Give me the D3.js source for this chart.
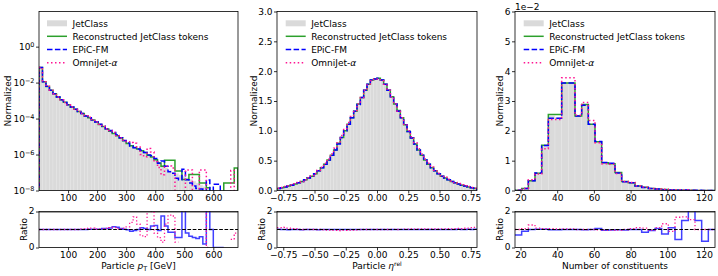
<!DOCTYPE html>
<html>
<head>
<meta charset="utf-8">
<script src="https://cdn.jsdelivr.net/npm/d3@7"></script>
<style>
  body { margin: 0; background: #fff; }
  svg { display: block; }
  text { font-family: "DejaVu Sans", sans-serif; }
</style>
</head>
<body>
<svg id="chart" width="718" height="276"></svg>
<script>
// ---- data ----
var ptEdges = d3.range(0, 685, 12);           // GeV, 57 bins
var etaEdges = d3.range(61).map(function (i) { return -0.8 + i * 1.6 / 60; });
var nEdges = d3.range(31).map(function (i) { return 17 + i * 109 / 30; });

var jetclassPt = [6.9e-2, 1.1e-2, 6.3e-3, 3.8e-3, 2.4e-3, 1.6e-3, 1.1e-3, 7.9e-4, 5.8e-4, 4.4e-4,
  3.3e-4, 2.5e-4, 1.9e-4, 1.4e-4, 1.1e-4, 8.3e-5, 6.3e-5, 4.7e-5, 3.5e-5, 2.6e-5,
  2.0e-5, 1.5e-5, 1.1e-5, 8.1e-6, 6.0e-6, 4.5e-6, 3.3e-6, 2.5e-6, 2.0e-6, 1.6e-6,
  1.26e-6, 9.5e-7, 7.1e-7, 5.0e-7, 3.5e-7, 2.5e-7, 1.8e-7, 1.3e-7, 1.05e-7, 8.7e-8,
  7.2e-8, 6.0e-8, 5.0e-8, 4.2e-8, 3.3e-8, 2.6e-8, 2.0e-8, 1.6e-8, 1.26e-8, 1.0e-8,
  7.9e-9, 6.3e-9, 5.0e-9, 4.0e-9, 3.2e-9, 2.5e-9, 2.0e-9];
var recoPt = [7.0e-2, 1.1e-2, 6.1e-3, 3.8e-3, 2.4e-3, 1.6e-3, 1.1e-3, 8.0e-4, 5.8e-4, 4.3e-4,
  3.3e-4, 2.5e-4, 1.9e-4, 1.4e-4, 1.1e-4, 8.2e-5, 6.4e-5, 4.7e-5, 3.6e-5, 2.6e-5,
  2.0e-5, 1.5e-5, 1.1e-5, 8.0e-6, 5.8e-6, 4.1e-6, 3.1e-6, 2.5e-6, 2.0e-6, 1.6e-6,
  1.3e-6, 9.0e-7, 7.4e-7, 5.2e-7, 3.4e-7, 2.2e-7, 4.8e-7, 4.8e-7, 4.8e-7, 1.2e-7,
  1.2e-7, 4.1e-8, 4.1e-8, 7.8e-8, 7.8e-8, 7.8e-8, 2.6e-8, 2.6e-8, 1.4e-8, 0,
  0, 0, 0, 2.6e-8, 2.6e-8, 2.6e-8, 1.8e-7];
var epicPt = [6.9e-2, 1.1e-2, 6.3e-3, 3.8e-3, 2.4e-3, 1.6e-3, 1.1e-3, 7.9e-4, 5.8e-4, 4.4e-4,
  3.3e-4, 2.5e-4, 1.9e-4, 1.4e-4, 1.1e-4, 8.4e-5, 6.4e-5, 4.8e-5, 3.7e-5, 2.75e-5,
  2.15e-5, 1.7e-5, 1.25e-5, 8.5e-6, 6.1e-6, 4.4e-6, 3.0e-6, 2.4e-6, 2.0e-6, 1.75e-6,
  1.3e-6, 9.5e-7, 8.5e-7, 6.1e-7, 3.3e-7, 4.4e-7, 2.2e-7, 1.1e-7, 9.0e-8, 4.8e-8,
  4.0e-8, 1.5e-7, 4.0e-8, 2.6e-8, 1.8e-8, 1.3e-8, 1.2e-8, 3.0e-9, 3.8e-8, 0,
  2.2e-8, 2.2e-8, 0, 0, 0, 0, 0];
var omniPt = [6.9e-2, 1.1e-2, 6.3e-3, 3.8e-3, 2.4e-3, 1.6e-3, 1.1e-3, 7.9e-4, 5.8e-4, 4.4e-4,
  3.3e-4, 2.5e-4, 1.9e-4, 1.45e-4, 1.2e-4, 9.0e-5, 6.4e-5, 4.8e-5, 3.6e-5, 2.75e-5,
  2.2e-5, 1.7e-5, 1.15e-5, 8.3e-6, 6.5e-6, 5.2e-6, 4.6e-6, 4.25e-6, 2.6e-6, 1.0e-6,
  7.6e-7, 2.2e-6, 1.4e-6, 4.0e-7, 1.9e-7, 7.5e-8, 2.3e-7, 2.3e-7, 1.8e-7, 0,
  0, 0, 1.4e-7, 1.4e-7, 0, 0, 1.4e-7, 1.4e-7, 0, 0,
  0, 0, 0, 0, 0, 1.3e-7, 0];
var ratioPtEpic = [1, 1, 1, 1, 1, 1, 1, 1, 1, 1,
  1, 1, 1, 1, 1.01, 1.01, 1.02, 1.02, 1.05, 1.06,
  1.08, 1.15, 1.12, 1.05, 1.02, 0.98, 0.9, 0.95, 1.0, 1.1,
  1.05, 1.0, 1.2, 1.22, 0.95, 1.75, 1.2, 0.85, 0.85, 0.55,
  0.55, 2.5, 0.8, 0.62, 0.55, 0.5, 0.6, 0.2, 3.0, 1.0,
  0, 0, 0, null, null, null, null];
var ratioPtOmni = [1, 1, 1, 1, 1, 1, 1, 1, 1, 1,
  1, 1, 1.02, 1.03, 1.08, 1.08, 1.02, 1.03, 1.04, 1.06,
  1.1, 1.12, 1.05, 1.03, 1.08, 1.15, 1.4, 1.7, 1.3, 0.65,
  0.6, 2.3, 2.0, 0.8, 0.55, 0.3, 1.3, 1.8, 1.75, 0.3,
  null, null, null, null, null, null, null, 2.5, 0, null,
  null, null, null, null, null, 0.45, 0.8];

var jetclassEta = [0.035, 0.045, 0.06, 0.075, 0.09, 0.11, 0.13, 0.15, 0.18, 0.21,
  0.24, 0.28, 0.33, 0.38, 0.44, 0.51, 0.59, 0.68, 0.78, 0.89,
  1.0, 1.11, 1.22, 1.33, 1.44, 1.56, 1.68, 1.78, 1.85, 1.87,
  1.88, 1.85, 1.78, 1.68, 1.57, 1.45, 1.33, 1.22, 1.1, 0.99,
  0.88, 0.78, 0.68, 0.59, 0.51, 0.44, 0.38, 0.33, 0.28, 0.24,
  0.21, 0.18, 0.15, 0.13, 0.11, 0.09, 0.075, 0.06, 0.045, 0.035];
var recoEta = [0.035, 0.046, 0.06, 0.075, 0.091, 0.11, 0.13, 0.15, 0.18, 0.21,
  0.24, 0.28, 0.33, 0.38, 0.44, 0.51, 0.59, 0.68, 0.79, 0.89,
  1.0, 1.11, 1.22, 1.33, 1.45, 1.56, 1.68, 1.78, 1.85, 1.87,
  1.88, 1.85, 1.78, 1.68, 1.57, 1.45, 1.34, 1.22, 1.1, 0.99,
  0.88, 0.78, 0.68, 0.59, 0.51, 0.44, 0.38, 0.33, 0.28, 0.24,
  0.21, 0.18, 0.15, 0.13, 0.11, 0.09, 0.075, 0.06, 0.045, 0.035];
var epicEta = [0.035, 0.045, 0.06, 0.074, 0.09, 0.11, 0.13, 0.15, 0.18, 0.21,
  0.24, 0.28, 0.33, 0.38, 0.44, 0.51, 0.59, 0.68, 0.78, 0.89,
  1.0, 1.11, 1.22, 1.33, 1.44, 1.56, 1.68, 1.78, 1.85, 1.87,
  1.88, 1.85, 1.78, 1.68, 1.57, 1.45, 1.33, 1.22, 1.1, 0.99,
  0.88, 0.78, 0.68, 0.59, 0.51, 0.44, 0.38, 0.33, 0.28, 0.24,
  0.21, 0.18, 0.15, 0.13, 0.11, 0.09, 0.076, 0.06, 0.045, 0.035];
var omniEta = [0.038, 0.05, 0.066, 0.08, 0.094, 0.113, 0.132, 0.152, 0.182, 0.212,
  0.243, 0.285, 0.34, 0.39, 0.455, 0.53, 0.615, 0.71, 0.815, 0.92,
  1.04, 1.14, 1.24, 1.34, 1.45, 1.56, 1.68, 1.77, 1.84, 1.87,
  1.87, 1.84, 1.78, 1.68, 1.57, 1.45, 1.33, 1.22, 1.11, 1.0,
  0.9, 0.8, 0.7, 0.61, 0.53, 0.455, 0.395, 0.34, 0.29, 0.25,
  0.22, 0.19, 0.158, 0.136, 0.116, 0.095, 0.08, 0.065, 0.049, 0.038];
var ratioEtaEpic = [1.01, 1.0, 1.0, 0.99, 1.0, 1.0, 1.0, 0.99, 1.0, 1.0,
  1.0, 1.0, 0.99, 1.0, 1.0, 1.0, 1.0, 1.0, 1.0, 1.0,
  1.0, 1.0, 1.0, 1.0, 1.0, 1.0, 1.0, 1.0, 1.0, 1.0,
  1.0, 1.0, 1.0, 1.0, 1.0, 1.0, 1.0, 1.0, 1.0, 1.0,
  1.0, 1.0, 1.0, 1.0, 1.0, 1.0, 1.0, 1.0, 1.0, 1.0,
  1.0, 1.0, 1.0, 1.0, 1.01, 1.0, 1.0, 1.01, 1.0, 1.01];
var ratioEtaOmni = [1.1, 1.1, 1.12, 1.08, 1.05, 1.03, 1.0, 1.0, 1.01, 1.0,
  1.0, 0.99, 1.0, 0.98, 0.97, 0.96, 0.95, 0.95, 0.94, 0.95,
  0.95, 0.96, 0.97, 0.98, 0.99, 1.0, 1.0, 1.0, 1.0, 1.0,
  1.0, 1.0, 1.0, 1.0, 1.0, 1.01, 1.0, 1.01, 1.02, 1.02,
  1.03, 1.02, 1.03, 1.03, 1.04, 1.03, 1.03, 1.04, 1.03, 1.04,
  1.04, 1.05, 1.04, 1.05, 1.06, 1.05, 1.07, 1.08, 1.1, 1.12];

var jetclassN = [0.0001, 0.0007, 0.0033, 0.0058, 0.015, 0.025, 0.0245, 0.036, 0.036, 0.025,
  0.0288, 0.0222, 0.0163, 0.0093, 0.009, 0.006, 0.003, 0.0026, 0.0015, 0.0011,
  0.0007, 0.0005, 0.0003, 0.0002, 0.00015, 0.0001, 0.00006, 0.00004, 0.00003, 0.00002];
var recoN = [0.0001, 0.0007, 0.0033, 0.0058, 0.0152, 0.0255, 0.0255, 0.036, 0.036, 0.025,
  0.0288, 0.0222, 0.0163, 0.0093, 0.009, 0.006, 0.003, 0.0026, 0.0015, 0.0011,
  0.0007, 0.0005, 0.0003, 0.0002, 0.00015, 0.0001, 0.00006, 0.00004, 0.00003, 0.00002];
var epicN = [0.00007, 0.00063, 0.0033, 0.0059, 0.0151, 0.0242, 0.0242, 0.036, 0.036, 0.025,
  0.0286, 0.0222, 0.0164, 0.0094, 0.0091, 0.0059, 0.0029, 0.0026, 0.0015, 0.001,
  0.0007, 0.0005, 0.0002, 0.0002, 0.0001, 0.00015, 0.0001, 0.00006, 0.00001, 0.00002];
var omniN = [0.0001, 0.0007, 0.0036, 0.0055, 0.014, 0.0238, 0.0238, 0.0378, 0.0378, 0.0252,
  0.0295, 0.0235, 0.016, 0.009, 0.0088, 0.0057, 0.003, 0.0027, 0.0016, 0.0012,
  0.0007, 0.0005, 0.0004, 0.0002, 0.00025, 0.00017, 0.0001, 0.00004, 0.00003, 0.00002];
var ratioNEpic = [0.7, 0.9, 1.0, 1.02, 1.01, 0.98, 0.98, 1.0, 1.0, 1.0,
  0.99, 1.0, 1.05, 0.96, 0.97, 0.98, 0.97, 1.0, 1.0, 0.85,
  0.95, 1.05, 0.75, 1.1, 0.45, 1.5, 2.5, 1.5, 0.35, 1.0];
var ratioNOmni = [1.0, 1.05, 1.25, 1.08, 1.05, 1.05, 1.04, 1.03, 1.03, 1.0,
  1.0, 1.0, 0.98, 0.96, 0.96, 0.97, 1.0, 1.05, 1.1, 1.08,
  0.97, 1.1, 1.32, 0.9, 1.68, 1.7, 1.55, 1.0, 1.0, 1.0];

var ptTicks = [100, 200, 300, 400, 500, 600];
var etaTicks = [-0.75, -0.5, -0.25, 0, 0.25, 0.5, 0.75];
var nTicks = [20, 40, 60, 80, 100, 120];
var logTicks = [1e-8, 1e-6, 1e-4, 1e-2, 1];
var etaYTicks = [0, 0.5, 1, 1.5, 2, 2.5, 3];
var nYTicks = [0, 0.01, 0.02, 0.03, 0.04, 0.05, 0.06];
var legendLabels = ['JetClass', 'Reconstructed JetClass tokens', 'EPiC-FM', 'OmniJet-'];

// ---- layout ----
var MAIN_TOP = 11.5, MAIN_BOT = 190.5, R_TOP = 211.5, R_BOT = 247.5;
var GREY = '#dadada', GREEN = '#2ca02c', BLUE = '#0000ff', PINK = '#ff1493';
var FONT = 9;

var svg = d3.select('#chart');
var defs = svg.append('defs');
var clipCount = 0;

function makeClip(x0, x1, y0, y1) {
  var id = 'clip' + (clipCount++);
  defs.append('clipPath').attr('id', id).append('rect')
    .attr('x', x0).attr('y', y0).attr('width', x1 - x0).attr('height', y1 - y0);
  return 'url(#' + id + ')';
}

// outline of a step histogram, dropping to the baseline at both ends
function histOutline(edges, vals, x, y, base) {
  var p = d3.path();
  p.moveTo(x(edges[0]), base + 5);
  vals.forEach(function (v, i) {
    var yy = v > 0 ? Math.min(y(v), base + 5) : base + 5;
    p.lineTo(x(edges[i]), yy);
    p.lineTo(x(edges[i + 1]), yy);
  });
  p.lineTo(x(edges[edges.length - 1]), base + 5);
  return p.toString();
}

function ratioPath(edges, vals, x, y) {
  var p = d3.path(), prev = false;
  vals.forEach(function (v, i) {
    if (v == null) { prev = false; return; }
    var yy = y(Math.min(v, 2.3));
    if (prev) p.lineTo(x(edges[i]), yy); else p.moveTo(x(edges[i]), yy);
    p.lineTo(x(edges[i + 1]), yy);
    prev = true;
  });
  return p.toString();
}

function styleAxis(sel) {
  sel.select('.domain').remove();
  sel.attr('font-size', FONT).attr('font-family', '"DejaVu Sans", sans-serif');
  sel.selectAll('line').attr('stroke', '#000').attr('stroke-width', 0.8);
  sel.selectAll('text').attr('fill', '#000');
}

function drawPanel(p) {
  var x = d3.scaleLinear().domain(p.xDomain).range([p.x0, p.x1]);
  var y = (p.log ? d3.scaleLog() : d3.scaleLinear()).domain(p.yDomain).range([MAIN_BOT, MAIN_TOP]);
  var yr = d3.scaleLinear().domain([0, 2]).range([R_BOT, R_TOP]);
  var g = svg.append('g');

  // main histograms
  var main = g.append('g').attr('clip-path', makeClip(p.x0, p.x1, MAIN_TOP, MAIN_BOT));
  main.selectAll('rect').data(p.ref).join('rect')
    .attr('x', function (d, i) { return x(p.edges[i]); })
    .attr('width', function (d, i) { return x(p.edges[i + 1]) - x(p.edges[i]); })
    .attr('y', function (d) { return d > 0 ? Math.min(y(d), MAIN_BOT) : MAIN_BOT; })
    .attr('height', function (d) { return d > 0 ? MAIN_BOT - Math.min(y(d), MAIN_BOT) : 0; })
    .attr('fill', GREY)
    .attr('stroke', '#e6e6e6')
    .attr('stroke-width', 0.5);

  main.append('path').attr('d', histOutline(p.edges, p.reco, x, y, MAIN_BOT))
    .attr('fill', 'none').attr('stroke', GREEN).attr('stroke-width', 1.5);
  main.append('path').attr('d', histOutline(p.edges, p.epic, x, y, MAIN_BOT))
    .attr('fill', 'none').attr('stroke', BLUE).attr('stroke-width', 1.5)
    .attr('stroke-dasharray', '5.5,2.4');
  main.append('path').attr('d', histOutline(p.edges, p.omni, x, y, MAIN_BOT))
    .attr('fill', 'none').attr('stroke', PINK).attr('stroke-width', 1.5)
    .attr('stroke-dasharray', '1.5,2.5');

  // ratio panel
  var rat = g.append('g').attr('clip-path', makeClip(p.x0, p.x1, R_TOP, R_BOT));
  rat.append('line').attr('x1', p.x0).attr('x2', p.x1)
    .attr('y1', yr(2) + 0.8).attr('y2', yr(2) + 0.8)
    .attr('stroke', '#a0a0a0').attr('stroke-width', 1.2);
  rat.append('path').attr('d', ratioPath(p.edges, p.rEpic, x, yr))
    .attr('fill', 'none').attr('stroke', BLUE).attr('stroke-opacity', 0.75).attr('stroke-width', 1.5);
  rat.append('path').attr('d', ratioPath(p.edges, p.rOmni, x, yr))
    .attr('fill', 'none').attr('stroke', PINK).attr('stroke-width', 1.3)
    .attr('stroke-dasharray', '1.3,2.2');
  rat.append('line').attr('x1', p.x0).attr('x2', p.x1)
    .attr('y1', yr(1)).attr('y2', yr(1))
    .attr('stroke', '#000').attr('stroke-width', 1).attr('stroke-dasharray', '3.7,1.6');

  // frames
  g.append('rect').attr('x', p.x0).attr('y', MAIN_TOP).attr('width', p.x1 - p.x0)
    .attr('height', MAIN_BOT - MAIN_TOP).attr('fill', 'none').attr('stroke', '#000').attr('stroke-width', 0.8);
  g.append('rect').attr('x', p.x0).attr('y', R_TOP).attr('width', p.x1 - p.x0)
    .attr('height', R_BOT - R_TOP).attr('fill', 'none').attr('stroke', '#000').attr('stroke-width', 0.8);

  // axes
  g.append('g').attr('transform', 'translate(0,' + MAIN_BOT + ')')
    .call(d3.axisBottom(x).tickValues(p.xTicks).tickFormat(p.xFmt).tickSize(3).tickPadding(1))
    .call(styleAxis);
  g.append('g').attr('transform', 'translate(0,' + R_BOT + ')')
    .call(d3.axisBottom(x).tickValues(p.xTicks).tickFormat(p.xFmt).tickSize(3).tickPadding(1.2))
    .call(styleAxis);
  var yAx = g.append('g').attr('transform', 'translate(' + p.x0 + ',0)')
    .call(d3.axisLeft(y).tickValues(p.yTicks).tickFormat(p.log ? function () { return ''; } : p.yFmt)
      .tickSize(3).tickPadding(1.5))
    .call(styleAxis);
  if (p.log) {
    yAx.selectAll('.tick text').each(function (d) {
      var t = d3.select(this);
      var e = Math.round(Math.log10(d));
      t.append('tspan').text('10');
      t.append('tspan').attr('dy', '-0.45em').attr('font-size', 6.5)
        .text(e < 0 ? '\u2212' + (-e) : String(e));
    });
  }
  var rAx = g.append('g').attr('transform', 'translate(' + p.x0 + ',0)')
    .call(d3.axisLeft(yr).tickValues([0, 2]).tickFormat(d3.format('d')).tickSize(3).tickPadding(1.5))
    .call(styleAxis);
  rAx.selectAll('.tick text').attr('dy', '0.2em');

  // axis labels
  g.append('text').attr('transform', 'translate(' + p.yLabX + ',' + ((MAIN_TOP + MAIN_BOT) / 2) + ') rotate(-90)')
    .attr('text-anchor', 'middle').attr('font-size', FONT).text('Normalized');
  g.append('text').attr('transform', 'translate(' + p.rLabX + ',' + ((R_TOP + R_BOT) / 2) + ') rotate(-90)')
    .attr('text-anchor', 'middle').attr('font-size', FONT).text('Ratio');
  var xl = g.append('text').attr('x', (p.x0 + p.x1) / 2).attr('y', 269.3)
    .attr('text-anchor', 'middle').attr('font-size', FONT);
  p.xLabel(xl);

  // legend
  var lx = p.x0 + p.legDx, rows = [23.3, 36.3, 49.5, 62.7];
  var lg = g.append('g');
  lg.append('rect').attr('x', lx).attr('y', rows[0] - 3).attr('width', 20).attr('height', 6).attr('fill', GREY);
  lg.append('line').attr('x1', lx).attr('x2', lx + 20).attr('y1', rows[1]).attr('y2', rows[1])
    .attr('stroke', GREEN).attr('stroke-width', 1.5);
  lg.append('line').attr('x1', lx).attr('x2', lx + 20).attr('y1', rows[2]).attr('y2', rows[2])
    .attr('stroke', BLUE).attr('stroke-width', 1.5).attr('stroke-dasharray', '5.5,2.4');
  lg.append('line').attr('x1', lx).attr('x2', lx + 20).attr('y1', rows[3]).attr('y2', rows[3])
    .attr('stroke', PINK).attr('stroke-width', 1.5).attr('stroke-dasharray', '1.5,2.5');
  legendLabels.forEach(function (lab, i) {
    var t = lg.append('text').attr('x', lx + 25.5).attr('y', rows[i] + 3.3).attr('font-size', FONT).text(lab);
    if (i === 3) t.append('tspan').attr('font-style', 'italic').text('\u03b1');
  });

  return g;
}

drawPanel({
  x0: 39, x1: 238, xDomain: [0, 685], edges: ptEdges, log: true, yDomain: [1e-8, 90],
  ref: jetclassPt, reco: recoPt, epic: epicPt, omni: omniPt, rEpic: ratioPtEpic, rOmni: ratioPtOmni,
  xTicks: ptTicks, xFmt: d3.format('d'), yTicks: logTicks,
  yLabX: 10.5, rLabX: 26.5, legDx: 8,
  xLabel: function (t) {
    t.append('tspan').text('Particle ');
    t.append('tspan').attr('font-style', 'italic').text('p');
    t.append('tspan').attr('dy', 2).attr('font-size', 6.5).text('T');
    t.append('tspan').attr('dy', -2).text(' [GeV]');
  }
});

drawPanel({
  x0: 277, x1: 477, xDomain: [-0.8, 0.8], edges: etaEdges, log: false, yDomain: [0, 3],
  ref: jetclassEta, reco: recoEta, epic: epicEta, omni: omniEta, rEpic: ratioEtaEpic, rOmni: ratioEtaOmni,
  xTicks: etaTicks, xFmt: d3.format('.2f'), yTicks: etaYTicks, yFmt: d3.format('.1f'),
  yLabX: 256.5, rLabX: 265, legDx: 8.7,
  xLabel: function (t) {
    t.append('tspan').text('Particle ');
    t.append('tspan').attr('font-style', 'italic').text('\u03b7');
    t.append('tspan').attr('dy', -3).attr('font-size', 6).text('rel');
  }
});

drawPanel({
  x0: 515, x1: 715, xDomain: [17, 126], edges: nEdges, log: false, yDomain: [0, 0.06],
  ref: jetclassN, reco: recoN, epic: epicN, omni: omniN, rEpic: ratioNEpic, rOmni: ratioNOmni,
  xTicks: nTicks, xFmt: d3.format('d'), yTicks: nYTicks, yFmt: function (d) { return String(Math.round(d * 100)); },
  yLabX: 503, rLabX: 503, legDx: 8.7,
  xLabel: function (t) { t.text('Number of constituents'); }
});

svg.append('text').attr('x', 515).attr('y', 10.3).attr('font-size', FONT).text('1e\u22122');
</script>
</body>
</html>
